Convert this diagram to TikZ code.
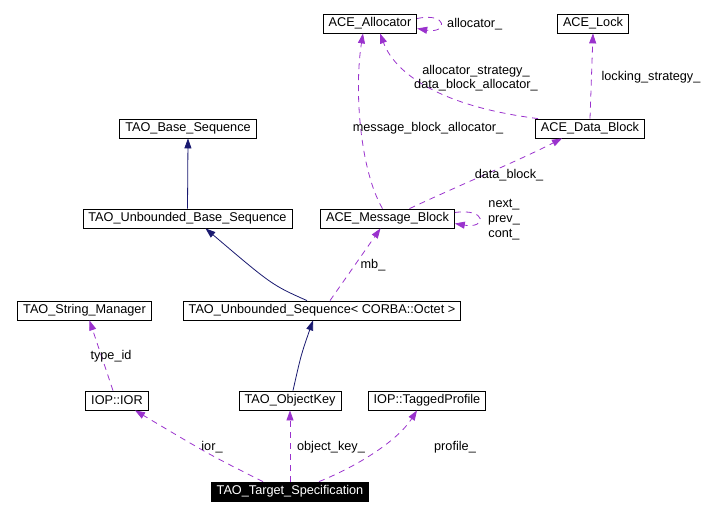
\documentclass[tikz,border=0pt]{standalone}
\usepackage{fontspec}
\setmainfont{Liberation Sans}
\usepackage{xcolor}
\usepackage{tikz}
\usetikzlibrary{arrows.meta}

\definecolor{navyline}{HTML}{191970}
\definecolor{orchidline}{HTML}{9A32CD}

\begin{document}
\begin{tikzpicture}[
    x=1pt, y=-1pt,
    cls/.style={draw=black, line width=0.8pt, fill=white, rectangle, minimum height=19pt, inner xsep=5.5pt, inner ysep=0pt, font=\fontsize{12.7}{14}\selectfont},
    target_cls/.style={cls, fill=black, text=white},
    lbl/.style={font=\fontsize{12.7}{14.5}\selectfont, inner sep=0pt, align=center},
    inherit_line/.style={draw=navyline, line width=0.8pt, -{Triangle[length=10pt, width=7pt]}},
    member_line/.style={draw=orchidline, line width=0.8pt, dash pattern=on 6pt off 5pt, -{Triangle[length=10pt, width=7pt, fill=orchidline]}}
]
    \useasboundingbox (0, 0) rectangle (720, 515);

    % Classes
    \node (alloc) [cls] at (370, 23.5) {ACE\_Allocator};
    \node (lock) [cls] at (593, 23.5) {ACE\_Lock};
    \node (baseseq) [cls] at (188, 128.5) {TAO\_Base\_Sequence};
    \node (datablock) [cls] at (590, 128.5) {ACE\_Data\_Block};
    \node (ubaseseq) [cls] at (187.5, 218.5) {TAO\_Unbounded\_Base\_Sequence};
    \node (msgblock) [cls] at (387.5, 218.5) {ACE\_Message\_Block};
    \node (strmgr) [cls] at (84.5, 310.5) {TAO\_String\_Manager};
    \node (useq) [cls] at (322, 310.5) {TAO\_Unbounded\_Sequence< CORBA::Octet >};
    \node (ior) [cls] at (117, 400.5) {IOP::IOR};
    \node (objkey) [cls] at (290, 400.5) {TAO\_ObjectKey};
    \node (tagprof) [cls] at (427, 400.5) {IOP::TaggedProfile};
    \node (target) [target_cls] at (290, 491.5) {TAO\_Target\_Specification};

    % Inheritance
    \draw [inherit_line] (ubaseseq.north) -- (baseseq.south);
    \draw [inherit_line] ([xshift=-15pt]useq.north) .. controls (272, 285) .. ([xshift=18pt]ubaseseq.south);
    \draw [inherit_line] ([xshift=3pt]objkey.north) .. controls (301, 355) .. ([xshift=-9pt]useq.south);

    % Members
    \draw [member_line] ([xshift=8pt]useq.north) -- ([xshift=-7pt]msgblock.south);
    \draw [member_line] ([xshift=-5pt]msgblock.north) .. controls (360, 170) and (354, 90) .. ([xshift=-7pt]alloc.south);
    \draw [member_line] ([xshift=22pt]msgblock.north) .. controls (460, 185) and (520, 160) .. ([xshift=-28pt]datablock.south);
    \draw [member_line] ([yshift=6pt]msgblock.east) .. controls (487, 208) and (487, 229) .. ([yshift=-5pt]msgblock.east);
    \draw [member_line] ([xshift=-52pt]datablock.north) .. controls (430, 105) and (393, 68) .. ([xshift=10pt]alloc.south);
    \draw [member_line] (datablock.north) -- (lock.south);
    \draw [member_line] ([yshift=5pt]alloc.east) .. controls (448, 12) and (448, 34) .. ([yshift=-5pt]alloc.east);
    \draw [member_line] ([xshift=-4pt]ior.north) -- ([xshift=5pt]strmgr.south);
    \draw [member_line] ([xshift=-27pt]target.north) .. controls (210, 455) .. ([xshift=18pt]ior.south);
    \draw [member_line] (target.north) -- (objkey.south);
    \draw [member_line] ([xshift=29pt]target.north) .. controls (360, 465) and (398, 440) .. ([xshift=-10pt]tagprof.south);

    % Member labels
    \node (l_alloc) [lbl, anchor=west] at (447, 24) {allocator\_};
    \node (l_strat) [lbl] at (476, 78) {allocator\_strategy\_\\data\_block\_allocator\_};
    \node (l_lock) [lbl] at (651, 77) {locking\_strategy\_};
    \node (l_mballoc) [lbl] at (428, 128) {message\_block\_allocator\_};
    \node (l_db) [lbl] at (509, 175) {data\_block\_};
    \node (l_next) [lbl, font=\fontsize{12.7}{15}\selectfont] at (504, 220) {next\_\\prev\_\\cont\_};
    \node (l_mb) [lbl] at (373, 265) {mb\_};
    \node (l_type) [lbl] at (111, 356) {type\_id};
    \node (l_ior) [lbl] at (212, 447) {ior\_};
    \node (l_okey) [lbl] at (331, 447) {object\_key\_};
    \node (l_prof) [lbl] at (455, 447) {profile\_};
\end{tikzpicture}
\end{document}
